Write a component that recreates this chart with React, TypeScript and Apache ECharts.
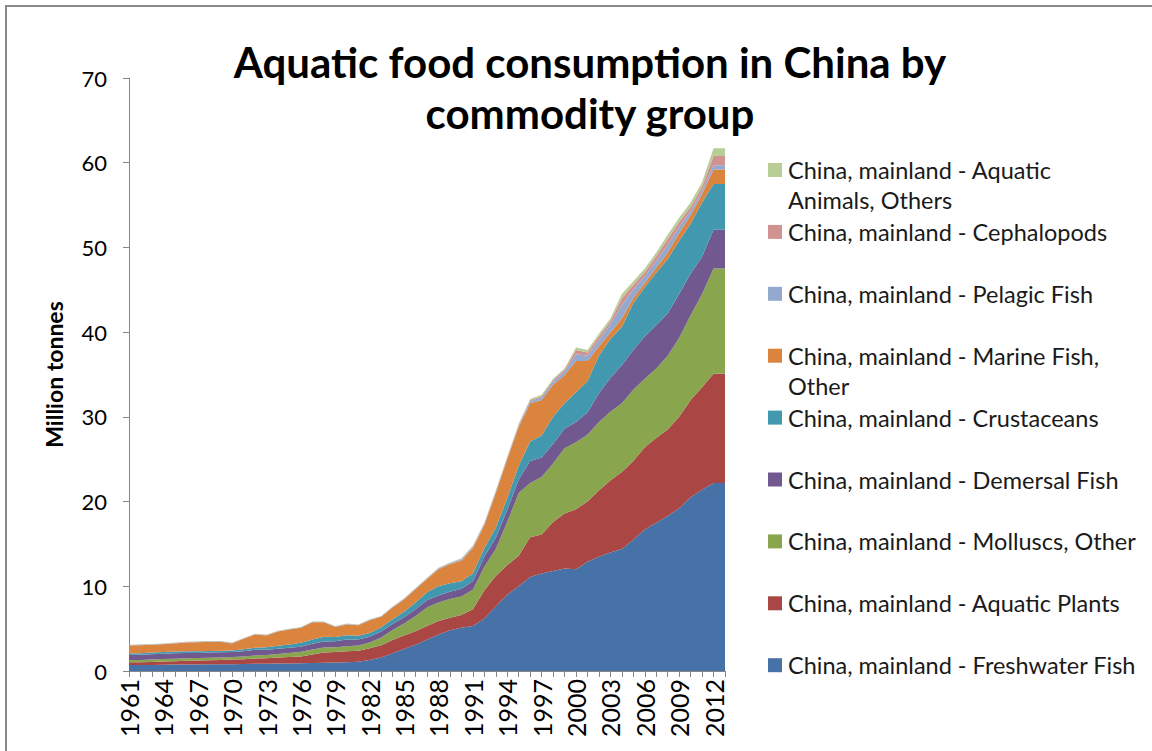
import React, { useEffect, useRef } from "react";
import * as echarts from "echarts";

const years = [
  "1961","1962","1963","1964","1965","1966","1967","1968","1969","1970",
  "1971","1972","1973","1974","1975","1976","1977","1978","1979","1980",
  "1981","1982","1983","1984","1985","1986","1987","1988","1989","1990",
  "1991","1992","1993","1994","1995","1996","1997","1998","1999","2000",
  "2001","2002","2003","2004","2005","2006","2007","2008","2009","2010",
  "2011","2012","2013",
];

const freshwaterFish = [
  0.70, 0.70, 0.72, 0.74, 0.76, 0.78, 0.78, 0.80, 0.80, 0.80,
  0.82, 0.85, 0.86, 0.88, 0.90, 0.92, 0.95, 0.98, 1.00, 1.02,
  1.10, 1.30, 1.60, 2.10, 2.60, 3.10, 3.70, 4.30, 4.80, 5.10,
  5.30, 6.20, 7.60, 9.00, 10.00, 11.10, 11.50, 11.80, 12.10, 12.00,
  12.90, 13.50, 14.00, 14.40, 15.50, 16.70, 17.50, 18.30, 19.20, 20.50,
  21.40, 22.20, 22.20,
];
const aquaticPlants = [
  0.32, 0.33, 0.35, 0.38, 0.40, 0.42, 0.45, 0.47, 0.50, 0.55,
  0.58, 0.62, 0.65, 0.70, 0.75, 0.80, 1.00, 1.20, 1.25, 1.30,
  1.30, 1.40, 1.45, 1.55, 1.60, 1.60, 1.60, 1.60, 1.50, 1.50,
  2.00, 3.30, 3.60, 3.50, 3.60, 4.70, 4.60, 5.80, 6.50, 7.10,
  7.10, 7.80, 8.50, 9.10, 9.30, 9.70, 10.00, 10.20, 10.80, 11.50,
  12.10, 12.90, 12.90,
];
const molluscsOther = [
  0.28, 0.28, 0.29, 0.29, 0.30, 0.30, 0.30, 0.30, 0.30, 0.30,
  0.32, 0.35, 0.38, 0.42, 0.48, 0.55, 0.60, 0.60, 0.55, 0.60,
  0.60, 0.65, 0.90, 1.20, 1.40, 1.80, 2.20, 2.20, 2.20, 2.20,
  2.30, 2.80, 3.20, 5.10, 7.40, 6.40, 6.80, 6.90, 7.70, 7.90,
  7.90, 8.10, 8.10, 8.10, 8.40, 8.10, 8.20, 8.70, 9.30, 10.00,
  11.00, 12.40, 12.40,
];
const demersalFish = [
  0.60, 0.62, 0.62, 0.63, 0.63, 0.62, 0.60, 0.60, 0.60, 0.58,
  0.62, 0.68, 0.62, 0.62, 0.60, 0.60, 0.68, 0.70, 0.72, 0.80,
  0.72, 0.70, 0.70, 0.70, 0.75, 0.80, 0.85, 0.80, 0.85, 0.90,
  1.00, 1.20, 1.30, 1.40, 1.60, 2.60, 2.30, 2.30, 2.30, 2.40,
  2.60, 3.40, 4.00, 4.50, 4.70, 5.00, 5.10, 5.00, 5.20, 4.90,
  4.40, 4.60, 4.60,
];
const crustaceans = [
  0.18, 0.18, 0.19, 0.20, 0.20, 0.20, 0.20, 0.20, 0.20, 0.20,
  0.22, 0.25, 0.30, 0.35, 0.40, 0.45, 0.50, 0.55, 0.50, 0.50,
  0.45, 0.45, 0.50, 0.55, 0.65, 0.80, 0.95, 1.10, 1.00, 0.90,
  0.90, 1.00, 1.20, 1.40, 1.60, 2.30, 2.60, 3.20, 3.00, 3.50,
  3.70, 4.40, 4.60, 4.50, 5.50, 5.80, 6.20, 6.40, 6.30, 5.90,
  6.40, 5.40, 5.40,
];
const marineFishOther = [
  0.92, 0.94, 0.93, 0.91, 0.96, 1.03, 1.07, 1.08, 1.05, 0.82,
  1.24, 1.55, 1.39, 1.68, 1.77, 1.78, 2.02, 1.72, 1.18, 1.28,
  1.23, 1.50, 1.25, 1.40, 1.45, 1.55, 1.55, 2.00, 2.25, 2.40,
  3.00, 2.70, 4.10, 4.60, 4.60, 4.50, 4.20, 3.80, 3.30, 3.70,
  2.40, 1.10, 0.80, 1.00, 0.60, 0.50, 0.60, 0.80, 0.90, 1.00,
  1.00, 1.70, 1.70,
];
const pelagicFish = [
  0.05, 0.05, 0.05, 0.05, 0.05, 0.05, 0.05, 0.05, 0.05, 0.05,
  0.05, 0.05, 0.05, 0.05, 0.05, 0.05, 0.05, 0.05, 0.05, 0.05,
  0.05, 0.05, 0.05, 0.05, 0.08, 0.08, 0.08, 0.10, 0.10, 0.15,
  0.15, 0.15, 0.15, 0.15, 0.20, 0.25, 0.30, 0.35, 0.40, 0.80,
  0.60, 0.70, 0.90, 1.60, 1.00, 0.80, 0.80, 0.90, 0.70, 0.50,
  0.40, 0.50, 0.50,
];
const cephalopods = [
  0.02, 0.02, 0.02, 0.02, 0.02, 0.02, 0.02, 0.02, 0.02, 0.02,
  0.02, 0.02, 0.02, 0.02, 0.02, 0.02, 0.02, 0.02, 0.02, 0.02,
  0.02, 0.02, 0.02, 0.02, 0.03, 0.03, 0.03, 0.05, 0.05, 0.08,
  0.08, 0.08, 0.08, 0.08, 0.10, 0.15, 0.15, 0.20, 0.25, 0.50,
  0.40, 0.50, 0.40, 0.80, 0.60, 0.50, 0.60, 0.70, 0.60, 0.50,
  0.50, 1.10, 1.10,
];
const aquaticAnimalsOthers = [
  0.03, 0.03, 0.03, 0.03, 0.03, 0.03, 0.03, 0.03, 0.03, 0.03,
  0.03, 0.03, 0.03, 0.03, 0.03, 0.03, 0.03, 0.03, 0.03, 0.03,
  0.03, 0.03, 0.03, 0.03, 0.04, 0.04, 0.04, 0.05, 0.05, 0.07,
  0.07, 0.07, 0.07, 0.07, 0.10, 0.10, 0.15, 0.15, 0.15, 0.30,
  0.30, 0.30, 0.30, 0.50, 0.40, 0.40, 0.40, 0.50, 0.50, 0.50,
  0.50, 0.90, 0.90,
];

const seriesNames = [
  "China, mainland - Freshwater Fish",
  "China, mainland - Aquatic Plants",
  "China, mainland - Molluscs, Other",
  "China, mainland - Demersal Fish",
  "China, mainland - Crustaceans",
  "China, mainland - Marine Fish, Other",
  "China, mainland - Pelagic Fish",
  "China, mainland - Cephalopods",
  "China, mainland - Aquatic Animals, Others",
];
// legend text as displayed (with Excel's wrapping)
const legendLabels = [
  "China, mainland - Freshwater Fish",
  "China, mainland - Aquatic Plants",
  "China, mainland - Molluscs, Other",
  "China, mainland - Demersal Fish",
  "China, mainland - Crustaceans",
  "China, mainland - Marine Fish,\nOther",
  "China, mainland - Pelagic Fish",
  "China, mainland - Cephalopods",
  "China, mainland - Aquatic\nAnimals, Others",
];
const seriesData = [
  freshwaterFish, aquaticPlants, molluscsOther, demersalFish, crustaceans,
  marineFishOther, pelagicFish, cephalopods, aquaticAnimalsOthers,
];
const colors = [
  "#4672A8", "#AA4744", "#89A54E", "#71588F", "#4198AF",
  "#DB843D", "#93A9CF", "#D19392", "#B9CD96",
];

const FONT = "Lato, 'Open Sans', sans-serif";

export default function App() {
  const ref = useRef<HTMLDivElement>(null);

  useEffect(() => {
    if (!ref.current) return;
    const chart = echarts.init(ref.current, undefined, { renderer: "svg" });

    const legendTop = 170;
    const legendStep = 61.9;
    const legendGraphics: any[] = [];
    for (let i = 0; i < seriesNames.length; i++) {
      const idx = seriesNames.length - 1 - i; // top item is last series
      const cy = legendTop + i * legendStep;
      legendGraphics.push({
        type: "rect",
        shape: { x: 768, y: cy - 7, width: 14, height: 14 },
        style: { fill: colors[idx] },
        silent: true,
      });
      legendGraphics.push({
        type: "text",
        x: 788,
        y: cy - 15,
        style: {
          text: legendLabels[idx],
          fill: "#1a1a1a",
          font: `23.5px ${FONT}`,
          lineHeight: 30,
          verticalAlign: "top",
          align: "left",
        },
        silent: true,
      });
    }

    chart.setOption({
      animation: false,
      backgroundColor: "#ffffff",
      title: {
        text: "Aquatic food consumption in China by\ncommodity group",
        left: 585,
        top: 31,
        textAlign: "center",
        textStyle: {
          fontFamily: FONT,
          fontWeight: "bold",
          fontSize: 42,
          lineHeight: 51,
          color: "#000000",
        },
      },
      grid: { left: 129, right: 427, top: 78, bottom: 80, containLabel: false },
      xAxis: {
        type: "category",
        data: years,
        boundaryGap: false,
        axisLine: { show: true, lineStyle: { color: "#868686", width: 1 } },
        axisTick: { show: true, interval: 0, length: 6, lineStyle: { color: "#868686" } },
        axisLabel: {
          interval: 2,
          rotate: 90,
          fontFamily: FONT,
          fontSize: 25,
          color: "#000000",
          margin: 8,
        },
        splitLine: { show: false },
      },
      yAxis: {
        type: "value",
        min: 0,
        max: 70,
        interval: 10,
        name: "Million tonnes",
        nameLocation: "middle",
        nameRotate: 90,
        nameGap: 64,
        nameTextStyle: {
          fontFamily: FONT,
          fontWeight: "bold",
          fontSize: 23,
          color: "#000000",
        },
        axisLine: { show: true, lineStyle: { color: "#868686", width: 1 } },
        axisTick: { show: true, length: 6, lineStyle: { color: "#868686" } },
        axisLabel: {
          fontFamily: FONT,
          fontSize: 22,
          color: "#000000",
          margin: 22,
        },
        splitLine: { show: false },
      },
      series: seriesNames.map((name, i) => ({
        name,
        type: "line",
        stack: "total",
        data: seriesData[i],
        symbol: "none",
        smooth: false,
        lineStyle: { width: 0 },
        areaStyle: { color: colors[i], opacity: 1 },
        itemStyle: { color: colors[i] },
        emphasis: { disabled: true },
      })),
      graphic: [
        {
          type: "rect",
          shape: { x: 6, y: 6, width: 2000, height: 2000 },
          style: { fill: "none", stroke: "#8a8a8a", lineWidth: 2 },
          silent: true,
          z: 100,
        },
        ...legendGraphics,
      ],
    });

    return () => chart.dispose();
  }, []);

  return (
    <div
      ref={ref}
      style={{ position: "fixed", left: 0, top: 0, width: 1152, height: 751, background: "#fff" }}
    />
  );
}
